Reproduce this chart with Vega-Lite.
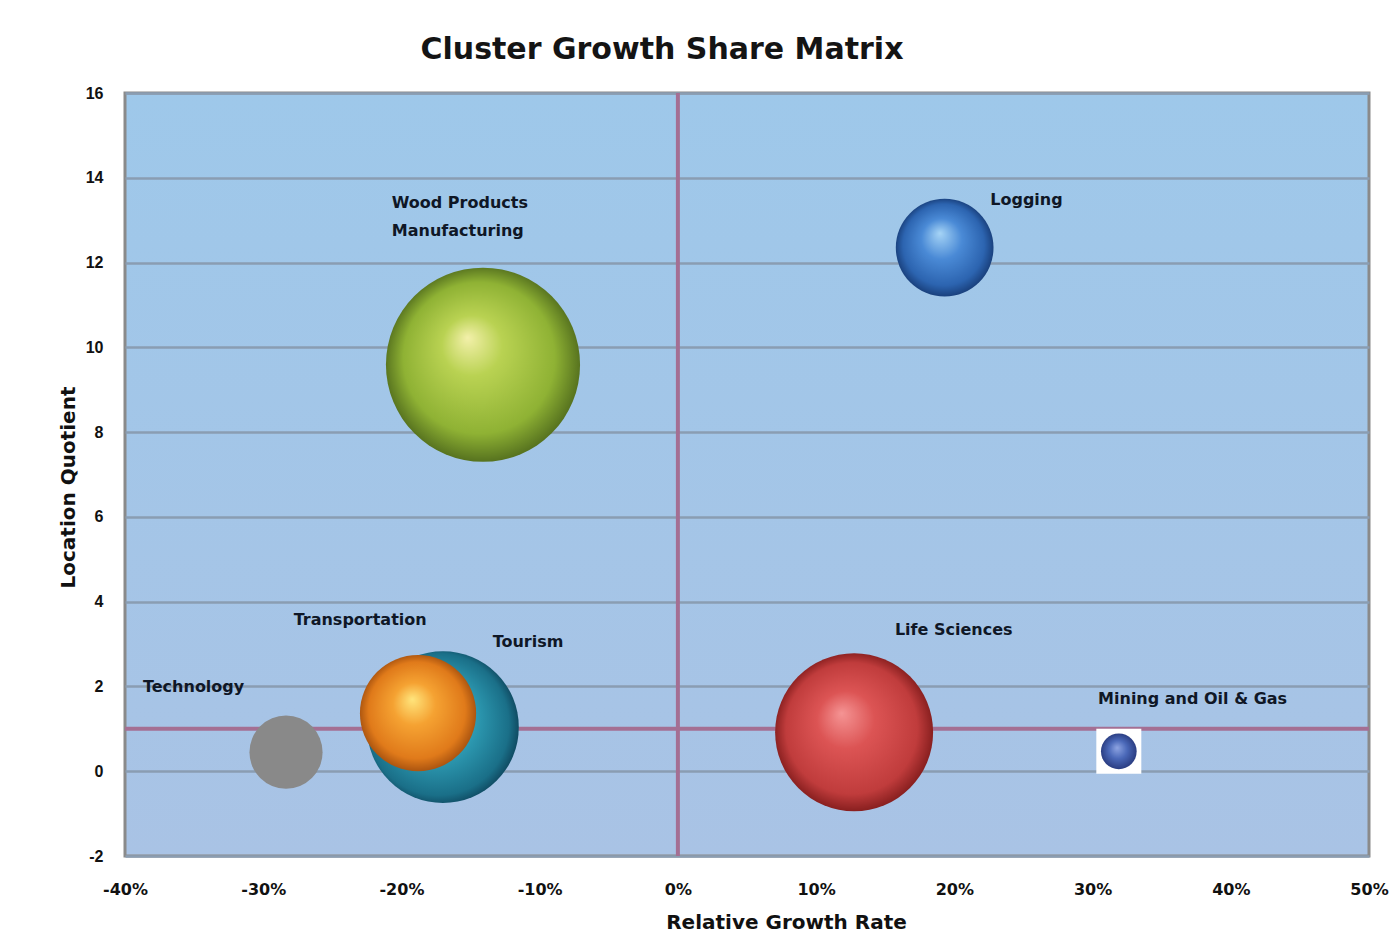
{
  "$schema": "https://vega.github.io/schema/vega-lite/v6.json",
  "width": 1244,
  "height": 763,
  "autosize": {"type": "none"},
  "padding": {"left": 125, "top": 93, "right": 28, "bottom": 96},
  "background": "white",
  "title": {
    "text": "Cluster Growth Share Matrix",
    "font": "DejaVu Sans",
    "fontSize": 30,
    "fontWeight": "bold",
    "color": "#141414",
    "anchor": "middle",
    "frame": "group",
    "dx": -85,
    "dy": 40,
    "baseline": "alphabetic",
    "offset": 36
  },
  "config": {
    "view": {
      "stroke": "#8a8a8a",
      "strokeWidth": 3,
      "fill": {
        "gradient": "linear", "x1": 0, "y1": 0, "x2": 0, "y2": 1,
        "stops": [{"offset": 0, "color": "#9ec8ea"}, {"offset": 1, "color": "#a9c3e5"}]
      }
    },
    "axis": {"domain": false, "ticks": false, "labelColor": "#111111", "titleColor": "#111111"}
  },
  "datasets": {
    "bubbles": [
      {"cluster": "Wood Products Manufacturing", "growth": -0.141, "lq": 9.59, "employment": 29.6},
      {"cluster": "Logging", "growth": 0.193, "lq": 12.35, "employment": 7.5},
      {"cluster": "Technology", "growth": -0.2835, "lq": 0.45, "employment": 4.2},
      {"cluster": "Tourism", "growth": -0.17, "lq": 1.04, "employment": 18.1},
      {"cluster": "Transportation", "growth": -0.188, "lq": 1.37, "employment": 10.6},
      {"cluster": "Life Sciences", "growth": 0.1275, "lq": 0.92, "employment": 19.6},
      {"cluster": "Mining and Oil & Gas", "growth": 0.319, "lq": 0.47, "employment": 1.0}
    ],
    "labels": [
      {"text": "Wood Products", "growth": -0.207, "lq": 13.41},
      {"text": "Manufacturing", "growth": -0.207, "lq": 12.75},
      {"text": "Logging", "growth": 0.226, "lq": 13.48},
      {"text": "Transportation", "growth": -0.278, "lq": 3.57},
      {"text": "Tourism", "growth": -0.134, "lq": 3.05},
      {"text": "Technology", "growth": -0.387, "lq": 1.98},
      {"text": "Life Sciences", "growth": 0.157, "lq": 3.33},
      {"text": "Mining and Oil & Gas", "growth": 0.304, "lq": 1.7}
    ]
  },
  "layer": [
    {
      "data": {"values": [{"growth": 0}]},
      "mark": {"type": "rule", "color": "#a46f93", "strokeWidth": 4},
      "encoding": {
        "x": {
          "field": "growth",
          "type": "quantitative",
          "scale": {"domain": [-0.4, 0.5], "nice": false, "zero": false},
          "axis": {
            "title": "Relative Growth Rate",
            "format": ".0%",
            "labelExpr": "replace(datum.label, '\u2212', '-')",
            "values": [-0.4, -0.3, -0.2, -0.1, 0, 0.1, 0.2, 0.3, 0.4, 0.5],
            "grid": false,
            "labelFont": "DejaVu Sans",
            "labelFontSize": 16,
            "labelFontWeight": "bold",
            "labelPadding": 25,
            "labelFlush": false,
            "titleFont": "DejaVu Sans",
            "titleFontSize": 20,
            "titleFontWeight": "bold",
            "titleX": 661,
            "titleY": 66,
            "titleAlign": "center",
            "titleBaseline": "middle"
          }
        }
      }
    },
    {
      "data": {"values": [{"lq": 1}]},
      "mark": {"type": "rule", "color": "#a46f93", "strokeWidth": 4},
      "encoding": {
        "y": {
          "field": "lq",
          "type": "quantitative",
          "scale": {"domain": [-2, 16], "nice": false, "zero": false},
          "axis": {
            "title": "Location Quotient",
            "values": [-2, 0, 2, 4, 6, 8, 10, 12, 14, 16],
            "format": "d",
            "labelExpr": "replace(datum.label, '\u2212', '-')",
            "grid": true,
            "gridColor": "#8a9db2",
            "gridWidth": 2.5,
            "labelFont": "Liberation Sans",
            "labelFontSize": 16,
            "labelFontWeight": "bold",
            "labelPadding": 22,
            "labelFlush": false,
            "titleFont": "DejaVu Sans",
            "titleFontSize": 20,
            "titleFontWeight": "bold",
            "titleAngle": 270,
            "titleX": -57,
            "titleY": 394,
            "titleAlign": "center",
            "titleBaseline": "middle"
          }
        }
      }
    },
    {
      "data": {"name": "bubbles"},
      "transform": [{"filter": "datum.cluster === 'Mining and Oil & Gas'"}],
      "mark": {"type": "square", "filled": true, "opacity": 1, "fill": "#ffffff", "size": 2025},
      "encoding": {
        "x": {"field": "growth", "type": "quantitative", "title": "Relative Growth Rate"},
        "y": {"field": "lq", "type": "quantitative", "title": "Location Quotient"}
      }
    },
    {
      "data": {"name": "bubbles"},
      "mark": {"type": "circle", "opacity": 1, "strokeWidth": 0},
      "encoding": {
        "x": {"field": "growth", "type": "quantitative", "title": "Relative Growth Rate"},
        "y": {"field": "lq", "type": "quantitative", "title": "Location Quotient"},
        "size": {
          "field": "employment",
          "type": "quantitative",
          "scale": {"type": "linear", "domain": [0, 30], "range": [0, 38197]},
          "legend": null
        },
        "fill": {
          "condition": [
            {"test": "datum.cluster === 'Wood Products Manufacturing'", "value": {"gradient": "radial", "x1": 0.42, "y1": 0.36, "r1": 0, "x2": 0.5, "y2": 0.5, "r2": 0.52,
              "stops": [{"offset": 0, "color": "#f3f0aa"}, {"offset": 0.3, "color": "#b9d252"}, {"offset": 0.75, "color": "#8fb234"}, {"offset": 1, "color": "#4f6a1c"}]}},
            {"test": "datum.cluster === 'Logging'", "value": {"gradient": "radial", "x1": 0.45, "y1": 0.35, "r1": 0, "x2": 0.5, "y2": 0.5, "r2": 0.52,
              "stops": [{"offset": 0, "color": "#a6d4f6"}, {"offset": 0.4, "color": "#4a8ad6"}, {"offset": 0.8, "color": "#2c64b0"}, {"offset": 1, "color": "#163a74"}]}},
            {"test": "datum.cluster === 'Technology'", "value": "#898989"},
            {"test": "datum.cluster === 'Tourism'", "value": {"gradient": "radial", "x1": 0.4, "y1": 0.38, "r1": 0, "x2": 0.48, "y2": 0.5, "r2": 0.55,
              "stops": [{"offset": 0, "color": "#8ad6dc"}, {"offset": 0.5, "color": "#2d9ab2"}, {"offset": 0.85, "color": "#1a6f88"}, {"offset": 1, "color": "#0b3b52"}]}},
            {"test": "datum.cluster === 'Transportation'", "value": {"gradient": "radial", "x1": 0.45, "y1": 0.38, "r1": 0, "x2": 0.5, "y2": 0.5, "r2": 0.52,
              "stops": [{"offset": 0, "color": "#ffe57c"}, {"offset": 0.35, "color": "#f5a232"}, {"offset": 0.8, "color": "#e07a1a"}, {"offset": 1, "color": "#a24e0e"}]}},
            {"test": "datum.cluster === 'Life Sciences'", "value": {"gradient": "radial", "x1": 0.42, "y1": 0.38, "r1": 0, "x2": 0.5, "y2": 0.5, "r2": 0.52,
              "stops": [{"offset": 0, "color": "#f59494"}, {"offset": 0.35, "color": "#dc5454"}, {"offset": 0.8, "color": "#c03c3c"}, {"offset": 1, "color": "#7e1a1a"}]}},
            {"test": "datum.cluster === 'Mining and Oil & Gas'", "value": {"gradient": "radial", "x1": 0.45, "y1": 0.4, "r1": 0, "x2": 0.5, "y2": 0.5, "r2": 0.52,
              "stops": [{"offset": 0, "color": "#8ea4e2"}, {"offset": 0.5, "color": "#4a68b8"}, {"offset": 1, "color": "#283a7e"}]}}
          ],
          "value": "#888888"
        }
      }
    },
    {
      "data": {"name": "labels"},
      "mark": {"type": "text", "align": "left", "baseline": "middle", "font": "DejaVu Sans", "fontSize": 16, "fontWeight": "bold", "color": "#0f1726"},
      "encoding": {
        "x": {"field": "growth", "type": "quantitative", "title": "Relative Growth Rate"},
        "y": {"field": "lq", "type": "quantitative", "title": "Location Quotient"},
        "text": {"field": "text", "type": "nominal"}
      }
    }
  ]
}
